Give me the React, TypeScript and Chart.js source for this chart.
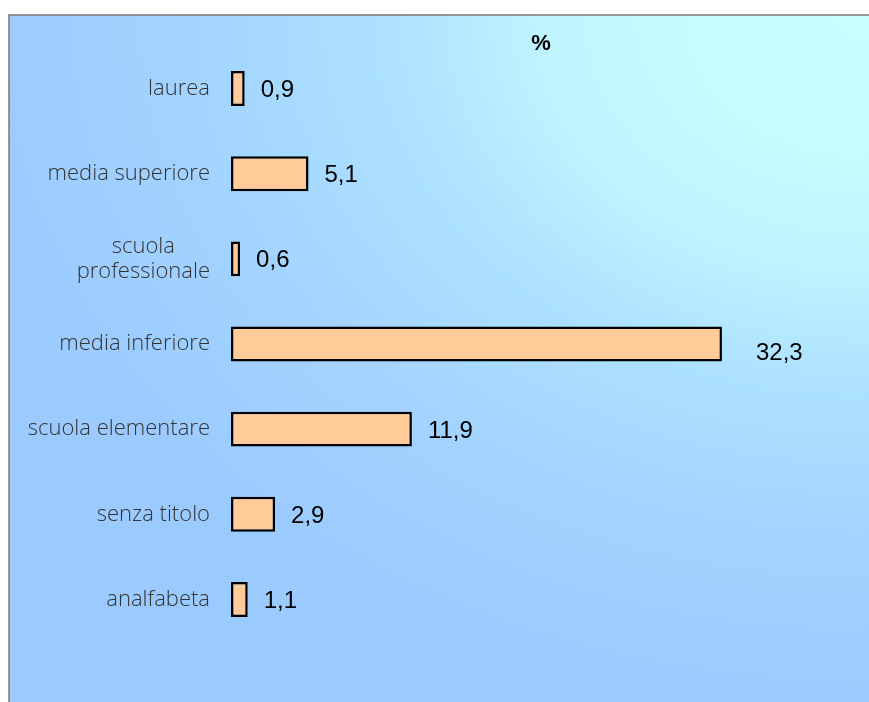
import React, { useEffect, useRef } from "react";
import { Chart, registerables } from "chart.js";

Chart.register(...registerables);

const categories: (string | string[])[] = [
  "laurea",
  "media superiore",
  ["scuola", "professionale"],
  "media inferiore",
  "scuola elementare",
  "senza titolo",
  "analfabeta",
];
const values: number[] = [0.9, 5.1, 0.6, 32.3, 11.9, 2.9, 1.1];
const valueLabels: string[] = ["0,9", "5,1", "0,6", "32,3", "11,9", "2,9", "1,1"];
const axisTitle = "%";

const backgroundPlugin = {
  id: "bgPanel",
  beforeDraw(chart: any) {
    const { ctx, width, height } = chart;
    ctx.save();
    ctx.fillStyle = "#ffffff";
    ctx.fillRect(0, 0, width, height);
    const x0 = 9;
    const y0 = 15;
    ctx.save();
    ctx.beginPath();
    ctx.rect(x0, y0, width - x0, height - y0);
    ctx.clip();
    const cx = width;
    const cy = y0;
    const sx = 1.3;
    ctx.translate(cx, cy);
    ctx.scale(sx, 1);
    const R = 700;
    const g = ctx.createRadialGradient(0, 0, 0, 0, 0, R);
    g.addColorStop(0, "#caffff");
    g.addColorStop(0.2, "#c6fbff");
    g.addColorStop(0.36, "#bff4ff");
    g.addColorStop(0.53, "#ade1ff");
    g.addColorStop(0.75, "#a3d4ff");
    g.addColorStop(1, "#9bcaff");
    ctx.fillStyle = g;
    ctx.fillRect(-width * 2, -10, width * 3, height + 20);
    ctx.restore();
    ctx.strokeStyle = "#7a7a7a";
    ctx.lineWidth = 1.5;
    ctx.beginPath();
    ctx.moveTo(x0, height);
    ctx.lineTo(x0, y0);
    ctx.lineTo(width, y0);
    ctx.stroke();
    ctx.restore();
  },
};

const categoryLabelPlugin = {
  id: "categoryLabels",
  afterDraw(chart: any) {
    const { ctx } = chart;
    const yScale = chart.scales.y;
    const right = chart.chartArea.left - 21;
    ctx.save();
    ctx.fillStyle = "#333333";
    ctx.font = "300 22px 'Open Sans', sans-serif";
    ctx.textBaseline = "middle";
    ctx.textAlign = "center";
    const lineH = 25;
    categories.forEach((c, i) => {
      const lines = Array.isArray(c) ? c : [c];
      const maxW = Math.max(...lines.map((l) => ctx.measureText(l).width));
      const cxp = right - maxW / 2;
      const yc = yScale.getPixelForValue(i);
      const start = yc - ((lines.length - 1) * lineH) / 2;
      lines.forEach((l, j) => ctx.fillText(l, cxp, start + j * lineH));
    });
    ctx.restore();
  },
};

const valueLabelPlugin = {
  id: "valueLabels",
  afterDatasetsDraw(chart: any) {
    const { ctx } = chart;
    const meta = chart.getDatasetMeta(0);
    ctx.save();
    ctx.fillStyle = "#000000";
    ctx.font = "24px 'Liberation Sans', Arial, sans-serif";
    ctx.textAlign = "left";
    ctx.textBaseline = "middle";
    const maxV = Math.max(...values);
    meta.data.forEach((bar: any, i: number) => {
      const isMax = values[i] === maxV;
      const dx = isMax ? 34 : 16;
      const dy = isMax ? 9 : 2;
      ctx.fillText(valueLabels[i], bar.x + dx, bar.y + dy);
    });
    ctx.font = "bold 22px 'Liberation Sans', Arial, sans-serif";
    ctx.textAlign = "center";
    ctx.fillText(axisTitle, 541, 44);
    ctx.restore();
  },
};

export default function App() {
  const ref = useRef<HTMLCanvasElement | null>(null);
  useEffect(() => {
    if (!ref.current) return;
    const chart = new Chart(ref.current, {
      type: "bar",
      data: {
        labels: categories,
        datasets: [
          {
            data: values,
            backgroundColor: "#ffcc99",
            borderColor: "#000000",
            borderWidth: 2.5,
            borderSkipped: false,
            barPercentage: 0.41,
            categoryPercentage: 1,
          },
        ],
      },
      options: {
        indexAxis: "y",
        animation: false,
        responsive: true,
        maintainAspectRatio: false,
        layout: { padding: { top: 46, bottom: 60, right: 30, left: 0 } },
        plugins: {
          legend: { display: false },
          tooltip: { enabled: false },
          title: { display: false },
        },
        scales: {
          x: {
            display: false,
            min: 0,
            max: 40,
          },
          y: {
            grid: { display: false, drawTicks: false },
            border: { display: false },
            ticks: { display: false },
            afterFit(axis: any) {
              axis.width = 231;
            },
          },
        },
      },
      plugins: [backgroundPlugin, valueLabelPlugin, categoryLabelPlugin],
    });
    return () => chart.destroy();
  }, []);
  return (
    <div style={{ position: "fixed", left: 0, top: 0, width: 869, height: 702 }}>
      <canvas ref={ref} />
    </div>
  );
}
